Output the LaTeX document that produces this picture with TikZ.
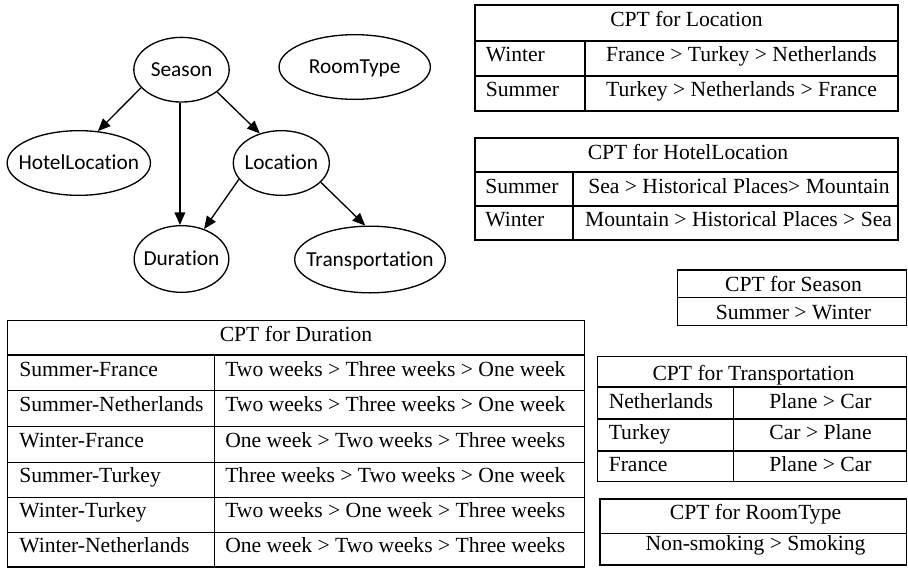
\documentclass[tikz,border=0pt]{standalone}
\usepackage{fontspec}
\setmainfont{Liberation Serif}
\newfontfamily\ellfont[Ligatures={NoCommon}]{Carlito}
\usetikzlibrary{shapes.geometric,arrows.meta}
\begin{document}
\begin{tikzpicture}[x=0.75pt,y=-0.75pt,
  bn/.style={ellipse, draw, line width=1pt, inner sep=0pt},
  bnlabel/.style={font=\ellfont\fontsize{16}{19}\selectfont, text height=10.3pt, text depth=0pt, inner sep=0pt},
  arr/.style={line width=1pt, -{Triangle[length=9.5pt,width=8pt]}},
  tbl/.style={line width=1pt},
  tt/.style={font=\fontsize{16.2}{19}\selectfont, inner sep=0pt, anchor=base},
  tl/.style={tt, anchor=base west}]
\useasboundingbox (0,0) rectangle (908,568);

% ---- Bayesian network ----
\node[bn, minimum width=71.5pt, minimum height=48.5pt, label={[bnlabel]center:Season}] (season) at (181.5,69.7) {};
\node[bn, minimum width=113.5pt, minimum height=48.5pt, label={[bnlabel]center:RoomType}] (room) at (354.7,67) {};
\node[bn, minimum width=107.5pt, minimum height=48.5pt, label={[bnlabel]center:HotelLocation}] (hotel) at (78.8,163) {};
\node[bn, minimum width=72pt, minimum height=48.5pt, label={[bnlabel]center:Location}] (loc) at (281.3,163) {};
\node[bn, minimum width=71pt, minimum height=50pt, label={[bnlabel]center:Duration}] (dur) at (181.5,259) {};
\node[bn, minimum width=113pt, minimum height=50pt, label={[bnlabel]center:Transportation}] (trans) at (370,259.5) {};

\draw[arr] (season.204) -- (hotel.59);
\draw[arr] ([xshift=-1.2pt]season.south) -- ([xshift=-1.2pt]dur.north);
\draw[arr] (season.328) -- (loc.126);
\draw[arr] (loc.201) -- (dur.53);
\draw[arr] (loc.334) -- (trans.98);

% ---- CPT for Location ----
\draw[tbl] (475,5) rectangle (898,111) (475,41) -- (898,41) (475,76) -- (898,76) (585,41) -- (585,111);
\node[tt] (l0) at (686.5,26) {CPT for Location};
\node[tl] (l1a) at (485.5,61) {Winter};
\node[tt] (l1b) at (741.5,61) {France > Turkey > Netherlands};
\node[tl] (l2a) at (485.5,96) {Summer};
\node[tt] (l2b) at (741.5,96) {Turkey > Netherlands > France};

% ---- CPT for HotelLocation ----
\draw[tbl] (475,138) rectangle (898,240) (475,172) -- (898,172) (475,206) -- (898,206) (573,172) -- (573,240);
\node[tt] (h0) at (688,159) {CPT for HotelLocation};
\node[tl] (h1a) at (485,193.3) {Summer};
\node[tt] (h1b) at (739,193.3) {Sea > Historical Places> Mountain};
\node[tl] (h2a) at (485,226.7) {Winter};
\node[tt] (h2b) at (738.5,226.7) {Mountain > Historical Places > Sea};

% ---- CPT for Season ----
\draw[tbl] (677.7,270) rectangle (906.5,325.3) (677.7,297.7) -- (906.5,297.7);
\node[tt] (s0) at (793.5,291) {CPT for Season};
\node[tt] (s1) at (793.5,319.3) {Summer > Winter};

% ---- CPT for Transportation ----
\draw[tbl] (597.3,356.7) rectangle (906.5,481.7) (597.3,387) -- (906.5,387) (597.3,419) -- (906.5,419) (597.3,451) -- (906.5,451) (733.3,387) -- (733.3,481.7);
\node[tt] (t0) at (753.5,380.7) {CPT for Transportation};
\node[tl] (t1a) at (608.5,408) {Netherlands};
\node[tt] (t1b) at (820.5,408) {Plane > Car};
\node[tl] (t2a) at (608.5,439.3) {Turkey};
\node[tt] (t2b) at (820.5,439.3) {Car > Plane};
\node[tl] (t3a) at (608.5,471) {France};
\node[tt] (t3b) at (820.5,471) {Plane > Car};

% ---- CPT for RoomType ----
\draw[tbl] (600,499) rectangle (906.5,565) (600,533.3) -- (906.5,533.3);
\node[tt] (r0) at (755.5,519.3) {CPT for RoomType};
\node[tt] (r1) at (755.5,550.7) {Non-smoking > Smoking};

% ---- CPT for Duration ----
\draw[tbl] (7.3,320.7) rectangle (584.3,567) (7.3,355) -- (584.3,355) (7.3,390.7) -- (584.3,390.7) (7.3,426.7) -- (584.3,426.7) (7.3,462.3) -- (584.3,462.3) (7.3,497.7) -- (584.3,497.7) (7.3,532.7) -- (584.3,532.7) (214.3,355) -- (214.3,567);
\node[tt] (d0) at (296,341.7) {CPT for Duration};
\node[tl] (d1a) at (19,376.7) {Summer-France};
\node[tl] (d1b) at (225,376.7) {Two weeks > Three weeks > One week};
\node[tl] (d2a) at (19,411.7) {Summer-Netherlands};
\node[tl] (d2b) at (225,411.7) {Two weeks > Three weeks > One week};
\node[tl] (d3a) at (19,447.3) {Winter-France};
\node[tl] (d3b) at (225,447.3) {One week > Two weeks > Three weeks};
\node[tl] (d4a) at (19,482.7) {Summer-Turkey};
\node[tl] (d4b) at (225,482.7) {Three weeks > Two weeks > One week};
\node[tl] (d5a) at (19,517.5) {Winter-Turkey};
\node[tl] (d5b) at (225,517.5) {Two weeks > One week > Three weeks};
\node[tl] (d6a) at (19,552.5) {Winter-Netherlands};
\node[tl] (d6b) at (225,552.5) {One week > Two weeks > Three weeks};
\end{tikzpicture}
\end{document}
